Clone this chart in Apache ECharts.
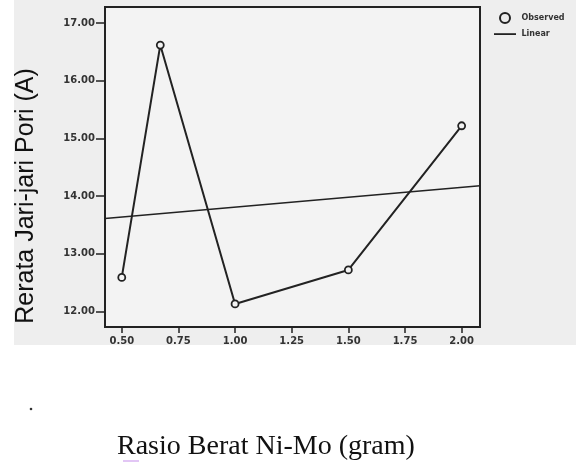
<!DOCTYPE html>
<html><head><meta charset="utf-8">
<script src="https://cdn.jsdelivr.net/npm/echarts@6/dist/echarts.min.js"></script>
<style>html,body{margin:0;padding:0;background:#fff}#c{width:576px;height:463px}</style>
</head><body><div id="c"></div>
<script>
const xValues = [0.50, 0.67, 1.00, 1.50, 2.00];
const observed = [12.59, 16.62, 12.13, 12.72, 15.22];
const linearX = [0.426, 2.081];
const linearY = [13.61, 14.18];
const xTicks = [0.50, 0.75, 1.00, 1.25, 1.50, 1.75, 2.00];
const yTicks = [12, 13, 14, 15, 16, 17];
const yTitle = 'Rerata Jari-jari Pori (A)';
const xTitle = 'Rasio Berat Ni-Mo (gram)';

const chart = echarts.init(document.getElementById('c'));
const ink = '#222';
chart.setOption({
  animation: false,
  backgroundColor: '#ffffff',
  title: {
    text: xTitle, left: 112, top: 428,
    textStyle: {fontFamily: 'Liberation Serif', fontSize: 28, fontWeight: 'normal', color: '#111'}
  },
  graphic: [
    {type: 'rect', z: -10, silent: true, shape: {x: 14, y: 0, width: 562, height: 345}, style: {fill: '#eeeeee'}},
    {type: 'text', x: 26, y: 196, rotation: Math.PI / 2, z: 10,
     style: {text: yTitle, font: '25px "Liberation Sans"', fill: '#111', align: 'center', verticalAlign: 'middle'}},
    {type: 'circle', shape: {cx: 31, cy: 409, r: 1.3}, style: {fill: '#333'}},
    {type: 'line', shape: {x1: 123, y1: 461, x2: 139, y2: 461}, style: {stroke: '#d9b3f2', lineWidth: 1.5}}
  ],
  legend: {
    orient: 'vertical', left: 494, top: 12, padding: 0, itemGap: 5, itemWidth: 23, itemHeight: 10,
    textStyle: {fontFamily: 'DejaVu Sans', fontWeight: 'bold', fontSize: 8, color: '#333'},
    data: [
      {name: 'Observed', icon: 'circle', itemStyle: {color: '#eee', borderColor: ink, borderWidth: 2}},
      {name: 'Linear', icon: 'path://M0,0 M0,4.2 L22,4.2 L22,6 L0,6 Z M22,10', itemStyle: {color: ink, borderWidth: 0}}
    ]
  },
  grid: {left: 105, right: 96, top: 7, bottom: 136, show: true, backgroundColor: '#f3f3f3', borderColor: ink, borderWidth: 2},
  xAxis: {
    type: 'value', min: linearX[0], max: linearX[1],
    axisLine: {show: false}, splitLine: {show: false},
    axisTick: {show: true, length: 6, customValues: xTicks, lineStyle: {color: ink, width: 1.5}},
    axisLabel: {customValues: xTicks, margin: 9, formatter: v => v.toFixed(2),
      fontFamily: 'DejaVu Sans', fontWeight: 'bold', fontSize: 10, color: '#333'}
  },
  yAxis: {
    type: 'value', min: 11.73, max: 17.28,
    axisLine: {show: false}, splitLine: {show: false},
    axisTick: {show: true, length: 9, customValues: yTicks, lineStyle: {color: ink, width: 1.5}},
    axisLabel: {customValues: yTicks, margin: 10, formatter: v => v.toFixed(2),
      fontFamily: 'DejaVu Sans', fontWeight: 'bold', fontSize: 10, color: '#333'}
  },
  series: [
    {name: 'Observed', type: 'line', data: xValues.map((x, i) => [x, observed[i]]),
     symbol: 'circle', symbolSize: 7, lineStyle: {color: ink, width: 2},
     itemStyle: {color: '#f3f3f3', borderColor: ink, borderWidth: 1.8}, z: 3},
    {name: 'Linear', type: 'line', data: linearX.map((x, i) => [x, linearY[i]]),
     symbol: 'none', lineStyle: {color: ink, width: 1.5}, itemStyle: {color: ink}, z: 2}
  ]
});
</script></body></html>
